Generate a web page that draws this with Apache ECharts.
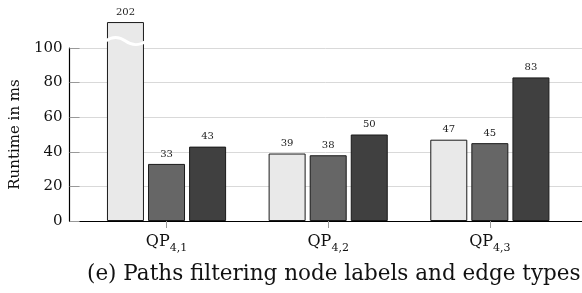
<!DOCTYPE html>
<html>
<head>
<meta charset="utf-8">
<script src="https://cdn.jsdelivr.net/npm/echarts@6/dist/echarts.min.js"></script>
<style>
  html, body { margin: 0; padding: 0; background: #fff; }
  #main { width: 582px; height: 293px; }
</style>
</head>
<body>
<div id="main"></div>
<script>
// data
var categories = ['4,1', '4,2', '4,3'];
var seriesA = [202, 39, 47];
var seriesB = [33, 38, 45];
var seriesC = [43, 50, 83];
var yTicks = [0, 20, 40, 60, 80, 100];
var caption = '(e) Paths filtering node labels and edge types';

// bars above this are drawn broken
var cutOff = 115;
var breakAt = 104;

var serif = '"DejaVu Serif", "Liberation Serif", serif';

function toPoints(arr) {
    return arr.map(function (v, i) { return [i + 1, Math.min(v, cutOff)]; });
}

function barSeries(arr, color) {
    return {
        type: 'bar',
        data: toPoints(arr),
        clip: false,
        barWidth: 37,
        barGap: '11%',
        itemStyle: { color: color, borderColor: '#1a1a1a', borderWidth: 1 },
        label: {
            show: true,
            position: 'top',
            distance: 5,
            fontFamily: serif,
            fontSize: 10,
            color: '#222',
            formatter: function (p) { return arr[p.dataIndex]; }
        }
    };
}

var breaks = [];
seriesA.forEach(function (v, i) { if (v > cutOff) breaks.push([i + 1, breakAt]); });

var myChart = echarts.init(document.getElementById('main'));
var option = {
    animation: false,
    title: {
        text: caption,
        left: 82,
        top: 258,
        textStyle: { fontFamily: serif, fontWeight: 'normal', fontSize: 21.5, color: '#111' }
    },
    grid: { left: 69, right: 0, top: 48, bottom: 72 },
    xAxis: {
        type: 'value',
        min: 0.4,
        max: 3.57,
        splitLine: { show: false },
        axisLine: { show: true, lineStyle: { color: '#000', width: 1.2 } },
        axisTick: { show: true, customValues: [1, 2, 3], length: 7, lineStyle: { color: '#999' } },
        axisLabel: {
            customValues: [1, 2, 3],
            margin: 13,
            formatter: function (v) { return '{a|QP}{b|' + categories[Math.round(v) - 1] + '}'; },
            rich: {
                a: { fontFamily: serif, fontSize: 16, color: '#111', padding: [0, 0, 4, 0], verticalAlign: 'bottom' },
                b: { fontFamily: serif, fontSize: 11, color: '#111', verticalAlign: 'bottom' }
            }
        }
    },
    yAxis: {
        type: 'value',
        min: 0,
        max: 100,
        interval: 20,
        name: 'Runtime in ms',
        nameLocation: 'middle',
        nameRotate: 90,
        nameGap: 43,
        nameTextStyle: { fontFamily: serif, fontSize: 15, color: '#111' },
        axisLine: { show: true, lineStyle: { color: '#000', width: 1.2 } },
        axisTick: { show: true, inside: true, length: 10, lineStyle: { color: '#999' } },
        axisLabel: {
            margin: 7,
            fontFamily: serif,
            fontSize: 15,
            color: '#111'
        },
        splitLine: { show: true, lineStyle: { color: '#d9d9d9', width: 1 } }
    },
    series: [
        barSeries(seriesA, '#e9e9e9'),
        barSeries(seriesB, '#666666'),
        barSeries(seriesC, '#404040'),
        {
            type: 'custom',
            data: breaks,
            clip: false,
            z: 10,
            renderItem: function (params, api) {
                var p = api.coord([api.value(0), api.value(1)]);
                var x0 = p[0] - 41 - 20;
                var y = p[1];
                var d = 'M' + x0 + ' ' + y +
                    ' C' + (x0 + 7) + ' ' + (y - 5) + ' ' + (x0 + 13) + ' ' + (y - 5) + ' ' + (x0 + 20) + ' ' + y +
                    ' C' + (x0 + 27) + ' ' + (y + 5) + ' ' + (x0 + 33) + ' ' + (y + 5) + ' ' + (x0 + 41) + ' ' + y;
                return {
                    type: 'path',
                    shape: { pathData: d },
                    style: { fill: null, stroke: '#fff', lineWidth: 3 }
                };
            }
        }
    ]
};
myChart.setOption(option);
</script>
</body>
</html>
